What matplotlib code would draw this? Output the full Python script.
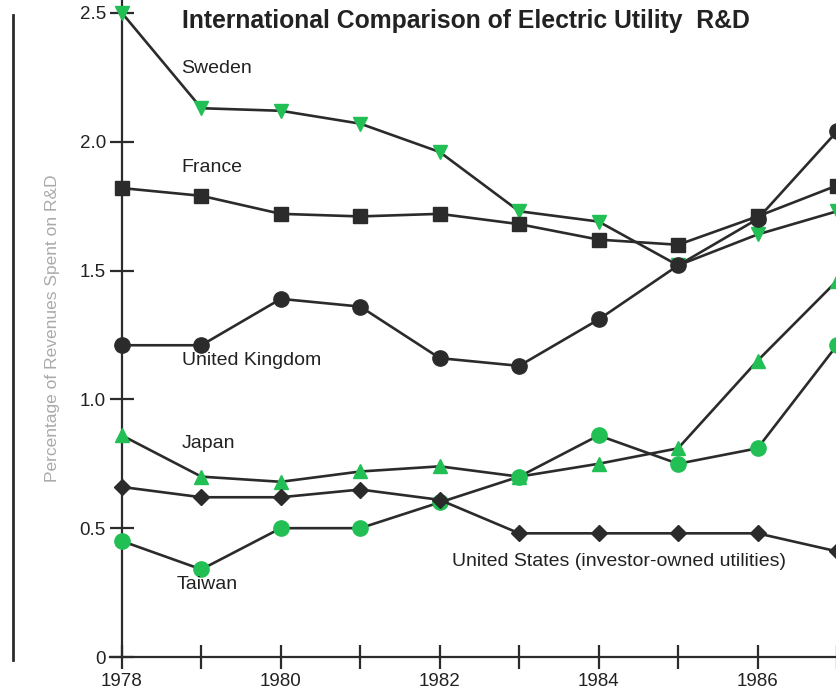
import matplotlib
matplotlib.use("Agg")
import matplotlib.pyplot as plt
from matplotlib.lines import Line2D

plt.rcParams['font.family'] = ['Liberation Sans', 'DejaVu Sans']

# --- data (percent of revenues spent on R&D) ---
years = [1978, 1979, 1980, 1981, 1982, 1983, 1984, 1985, 1986, 1987]
sweden = [2.50, 2.13, 2.12, 2.07, 1.96, 1.73, 1.69, 1.52, 1.64, 1.73]
france = [1.82, 1.79, 1.72, 1.71, 1.72, 1.68, 1.62, 1.60, 1.71, 1.83]
uk = [1.21, 1.21, 1.39, 1.36, 1.16, 1.13, 1.31, 1.52, 1.70, 2.04]
japan = [0.86, 0.70, 0.68, 0.72, 0.74, 0.70, 0.75, 0.81, 1.15, 1.46]
taiwan = [0.45, 0.34, 0.50, 0.50, 0.60, 0.70, 0.86, 0.75, 0.81, 1.21]
usa = [0.66, 0.62, 0.62, 0.65, 0.61, 0.48, 0.48, 0.48, 0.48, 0.41]

y_ticks = [0, 0.5, 1.0, 1.5, 2.0, 2.5]
y_tick_labels = ['0', '0.5', '1.0', '1.5', '2.0', '2.5']

DARK = '#2b2b2b'
GREEN = '#22bf55'

fig = plt.figure(figsize=(8.37, 6.90), dpi=100)
ax = fig.add_axes([110 / 837, 33 / 690, 727 / 837, 657 / 690])

line_kw = dict(color=DARK, lw=1.9, clip_on=False)
ax.plot(years, sweden, marker='v', ms=10, mfc=GREEN, mec=GREEN, zorder=3, **line_kw)
ax.plot(years, france, marker='s', ms=10, mfc=DARK, mec=DARK, zorder=3, **line_kw)
ax.plot(years, uk, marker='o', ms=11, mfc=DARK, mec=DARK, zorder=3, **line_kw)
ax.plot(years, japan, marker='^', ms=10, mfc=GREEN, mec=GREEN, zorder=3, **line_kw)
ax.plot(years, taiwan, marker='o', ms=11, mfc=GREEN, mec=GREEN, zorder=3, **line_kw)
ax.plot(years, usa, marker='D', ms=8.5, mfc=DARK, mec=DARK, zorder=4, **line_kw)

ax.set_xlim(1977.85, 1986.93)
ax.set_ylim(0, 2.55)

for s in ['top', 'right']:
    ax.spines[s].set_visible(False)
ax.spines['left'].set_position(('data', 1978))
ax.spines['left'].set_color(DARK)
ax.spines['bottom'].set_color(DARK)
ax.spines['left'].set_linewidth(1.6)
ax.spines['bottom'].set_linewidth(1.6)

ax.set_xticks(years)
ax.set_xticklabels([str(y) if y % 2 == 0 else '' for y in years], fontsize=13.5)
ax.set_yticks(y_ticks)
ax.set_yticklabels(y_tick_labels, fontsize=13.5)
ax.tick_params(axis='both', direction='inout', length=17, width=1.6, color=DARK, labelcolor='#222222')
ax.tick_params(axis='x', pad=3)
ax.tick_params(axis='y', pad=3)

ax.set_ylabel('Percentage of Revenues Spent on R&D', fontsize=12.5, color='#aaaaaa', labelpad=14)

# series labels
lab_kw = dict(fontsize=14, color='#222222', va='center', ha='left')
ax.text(1978.75, 2.285, 'Sweden', **lab_kw)
ax.text(1978.75, 1.90, 'France', **lab_kw)
ax.text(1978.75, 1.15, 'United Kingdom', **lab_kw)
ax.text(1978.75, 0.83, 'Japan', **lab_kw)
ax.text(1978.69, 0.28, 'Taiwan', **lab_kw)
ax.text(1982.16, 0.37, 'United States (investor-owned utilities)', **lab_kw)

fig.text(182 / 837, 1 - 21 / 690, 'International Comparison of Electric Utility  R&D',
         fontsize=17.8, fontweight='bold', color='#222222', va='center', ha='left')

# left border rule
fig.add_artist(Line2D([13 / 837, 13 / 837], [1 - 15 / 690, 1 - 660 / 690], color=DARK, lw=2))

fig.savefig('out.png', dpi=100)
